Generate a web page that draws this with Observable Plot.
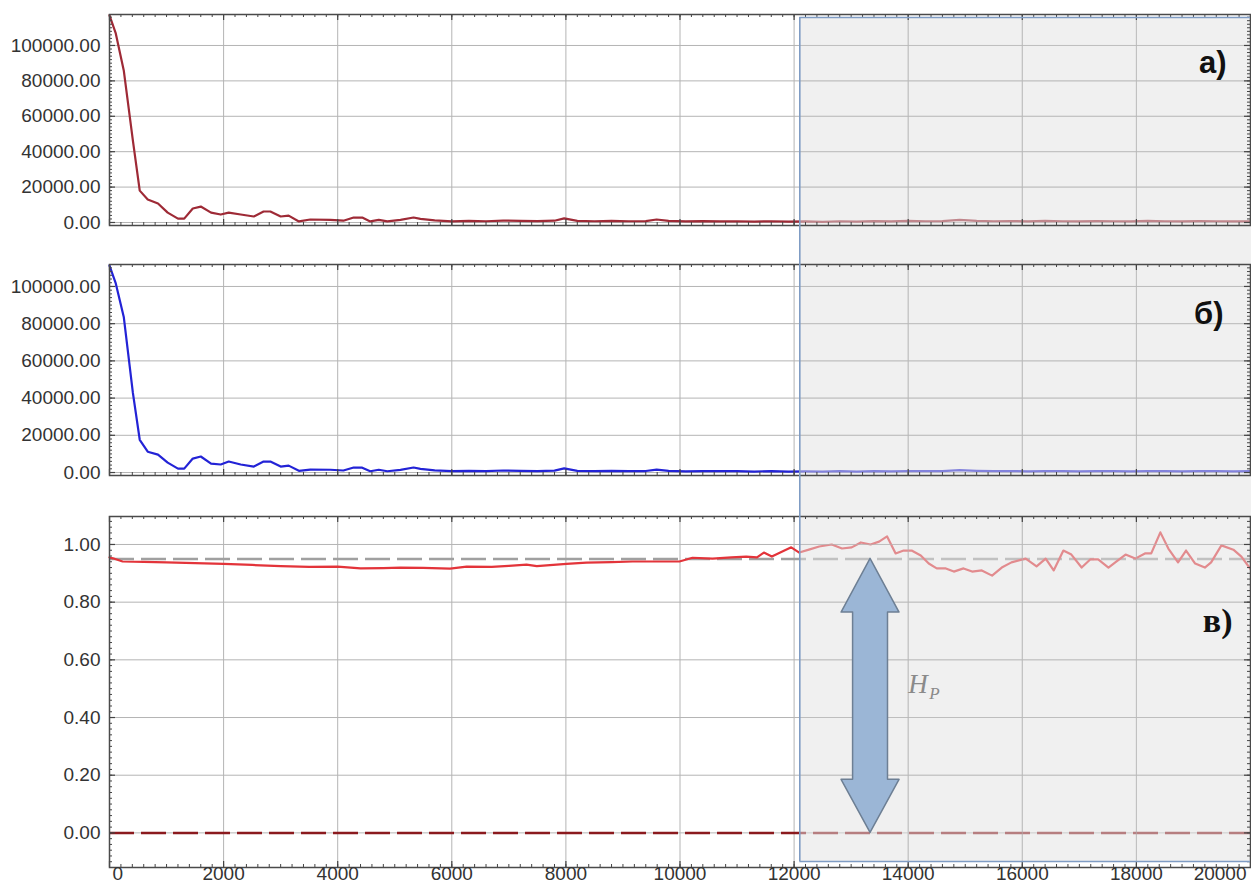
<!DOCTYPE html>
<html>
<head>
<meta charset="utf-8">
<script src="https://cdn.jsdelivr.net/npm/d3@7"></script>
<script src="https://cdn.jsdelivr.net/npm/@observablehq/plot@0.6"></script>
<style>
  body { margin: 0; background: #fff; }
  #chart { width: 1251px; }
  #chart svg { display: block; }
</style>
</head>
<body>
<div id="chart"></div>
<script>
// Series: [step, value]
const curveA = [
  [0,117000],[110,106800],[250,85900],[410,46300],[530,18000],[670,13000],[850,10700],[1020,5600],
  [1200,2200],[1310,2200],[1460,7900],[1600,9000],[1780,5600],[1950,4500],[2090,5600],[2300,4500],
  [2530,3400],[2700,6200],[2820,6200],[3000,3400],[3140,3900],[3320,600],[3520,1700],[3870,1500],
  [4100,1000],[4280,2800],[4430,2800],[4570,600],[4720,1500],[4870,600],[5100,1500],[5330,2800],
  [5450,2000],[5700,1200],[6000,600],[6300,900],[6600,700],[6900,1100],[7200,900],[7500,800],
  [7800,1000],[7970,2300],[8200,900],[8500,700],[8800,900],[9100,700],[9400,800],[9590,1700],
  [9800,900],[10100,600],[10400,800],[10700,600],[11000,700],[11300,500],[11600,700],[11900,500],
  [12200,600],[12500,400],[12800,700],[13100,500],[13400,800],[13700,600],[14000,900],[14300,700],
  [14600,800],[14900,1500],[15200,900],[15500,700],[15800,800],[16100,600],[16400,900],[16700,700],
  [17000,600],[17300,800],[17600,700],[17900,600],[18200,900],[18500,700],[18800,600],[19100,800],
  [19400,700],[19700,600],[20000,700]
];
const curveB = [
  [0,111200],[110,101600],[250,83600],[410,42800],[530,17600],[670,11200],[850,9600],[1020,5300],
  [1200,2100],[1310,2100],[1460,7500],[1600,8600],[1780,4800],[1950,4300],[2090,5900],[2300,4300],
  [2530,3200],[2700,5900],[2820,5900],[3000,3200],[3140,3700],[3320,900],[3520,1600],[3870,1500],
  [4100,1100],[4280,2700],[4430,2600],[4570,700],[4720,1500],[4870,700],[5100,1400],[5330,2700],
  [5450,2000],[5700,1200],[6000,700],[6300,900],[6600,800],[6900,1100],[7200,900],[7500,800],
  [7800,1000],[7970,2200],[8200,900],[8500,700],[8800,900],[9100,700],[9400,800],[9590,1600],
  [9800,900],[10100,600],[10400,800],[10700,700],[11000,700],[11300,500],[11600,800],[11900,500],
  [12200,600],[12500,500],[12800,700],[13100,500],[13400,700],[13700,600],[14000,800],[14300,700],
  [14600,800],[14900,1300],[15200,900],[15500,700],[15800,800],[16100,600],[16400,800],[16700,700],
  [17000,600],[17300,800],[17600,700],[17900,600],[18200,800],[18500,700],[18800,600],[19100,800],
  [19400,700],[19700,600],[20000,700]
];
const curveC = [
  [0,0.955],[60,0.952],[230,0.941],[600,0.940],[1000,0.938],[1500,0.935],[2000,0.933],[2500,0.929],
  [3000,0.925],[3500,0.922],[4000,0.923],[4400,0.917],[4800,0.918],[5100,0.920],[5500,0.919],
  [5970,0.916],[6260,0.923],[6700,0.922],[7000,0.926],[7310,0.930],[7490,0.925],[8010,0.933],
  [8360,0.937],[8800,0.939],[9170,0.941],[9600,0.941],[9990,0.941],[10220,0.954],[10570,0.951],
  [10900,0.955],[11160,0.958],[11350,0.955],[11470,0.972],[11610,0.958],[11950,0.990],[12090,0.972],
  [12260,0.982],[12440,0.993],[12660,1.000],[12840,0.986],[13010,0.990],[13170,1.007],[13340,1.000],
  [13490,1.010],[13630,1.028],[13780,0.969],[13920,0.979],[14060,0.979],[14220,0.962],[14360,0.934],
  [14500,0.917],[14660,0.917],[14800,0.906],[14970,0.917],[15120,0.906],[15290,0.910],[15470,0.892],
  [15640,0.920],[15810,0.938],[16060,0.951],[16250,0.924],[16410,0.951],[16550,0.910],[16720,0.979],
  [16860,0.965],[17040,0.920],[17190,0.948],[17330,0.948],[17510,0.920],[17630,0.938],[17810,0.965],
  [17980,0.951],[18150,0.969],[18260,0.969],[18420,1.042],[18560,0.986],[18730,0.938],[18870,0.979],
  [19030,0.934],[19200,0.920],[19310,0.938],[19490,0.997],[19700,0.982],[19840,0.958],[20000,0.915]
];

const xTicks = [0, 2000, 4000, 6000, 8000, 10000, 12000, 14000, 16000, 18000, 20000];
const yTicksAB = [0, 20000, 40000, 60000, 80000, 100000];
const yTicksC = [0, 0.2, 0.4, 0.6, 0.8, 1.0];
const levelC = 0.95;          // reference level (grey dashed)
const baseC = 0;              // zero level (dark red dashed)
const shadeSpan = [12100, 20000];
const panelLabels = ["а)", "б)", "в)"];
// Double arrow between the zero level and the reference level: [y, left, right]
const arrowShape = [
  [0.0, 13340, 13340],
  [0.184, 12832, 13848],
  [0.184, 13034, 13646],
  [0.764, 13034, 13646],
  [0.764, 12832, 13848],
  [0.95, 13340, 13340]
];

const W = 1251, ML = 109, MR = 1;
const FONT = "'Liberation Sans', Arial, sans-serif";
const GRID = "#b4b4b4";
const EDGE = "#7f9cc4";
const fmt2 = d3.format(".2f");

function panel(o) {
  const fh = o.height - o.mt - o.mb;
  const fw = W - ML - MR;
  const xMinor = d3.range(0, 20001, 200);
  const yMinor = d3.range(Math.ceil(o.yDomain[0] / o.yStep) * o.yStep, o.yDomain[1], o.yStep);
  const yMajorAll = d3.range(Math.ceil(o.yDomain[0] / o.yMajor) * o.yMajor, o.yDomain[1], o.yMajor);
  const tickColor = "#444";
  const marks = [
    // grid
    Plot.ruleX(xTicks.slice(1, -1), {stroke: GRID, strokeWidth: 1}),
    Plot.ruleY(o.yTicks, {stroke: GRID, strokeWidth: 1}),
    ...(o.under || []),
    Plot.line(o.data, {x: d => d[0], y: d => d[1], stroke: o.color, strokeWidth: 2.2}),
    // shaded horizon region (laid over the curves, so they fade inside it)
    Plot.rect([shadeSpan], {x1: d => d[0], x2: d => d[1], fill: "#e2e2e2", fillOpacity: 0.5,
      insetTop: o.shadeTop, insetBottom: o.shadeBottom, insetRight: -4}),
    // grid again inside the shaded region so it keeps its contrast there
    Plot.ruleX(xTicks.filter(v => v > shadeSpan[0] && v < 20000), {stroke: GRID, strokeWidth: 1,
      strokeOpacity: 0.6}),
    Plot.ruleY(o.yTicks.filter(v => v !== 0), {x1: () => shadeSpan[0], x2: () => shadeSpan[1],
      stroke: GRID, strokeWidth: 1, strokeOpacity: 0.6}),
    // inward frame ticks
    Plot.ruleX(xMinor, {stroke: tickColor, strokeWidth: 1, insetTop: fh - 3}),
    Plot.ruleX(xMinor, {stroke: tickColor, strokeWidth: 1, insetBottom: fh - 3}),
    Plot.ruleX(xTicks, {stroke: tickColor, strokeWidth: 1.2, insetTop: fh - 6}),
    Plot.ruleX(xTicks, {stroke: tickColor, strokeWidth: 1.2, insetBottom: fh - 6}),
    Plot.ruleY(yMinor, {stroke: tickColor, strokeWidth: 1, insetRight: fw - 3}),
    Plot.ruleY(yMinor, {stroke: tickColor, strokeWidth: 1, insetLeft: fw - 3}),
    Plot.ruleY(yMajorAll, {stroke: tickColor, strokeWidth: 1.2, insetRight: fw - 6}),
    Plot.ruleY(yMajorAll, {stroke: tickColor, strokeWidth: 1.2, insetLeft: fw - 6}),
    Plot.frame({stroke: "#4a4a4a", strokeWidth: 1.5}),
    // border of the shaded region
    Plot.ruleX([shadeSpan[0]], {stroke: EDGE, strokeWidth: 1.6,
      insetTop: o.shadeTop, insetBottom: o.shadeBottom}),
    ...(o.shadeEdges || []),
    // y tick labels
    Plot.text(o.yTicks, {y: d => d, text: d => fmt2(d), frameAnchor: "left", textAnchor: "end",
      dx: -9, fill: "#333", fontSize: 19}),
    // panel label
    Plot.text([o.label], {text: d => d, frameAnchor: "top-right", textAnchor: "end",
      dx: o.labelDx, dy: o.labelDy, fontSize: o.labelSize, fontWeight: "bold",
      fontFamily: o.labelFont, fill: "#111"}),
    ...(o.over || [])
  ];
  return Plot.plot({
    width: W, height: o.height,
    marginLeft: ML, marginRight: MR, marginTop: o.mt, marginBottom: o.mb,
    x: {domain: [0, 20000], axis: null},
    y: {domain: o.yDomain, axis: null},
    style: {fontFamily: FONT, fontSize: "19px", background: "transparent", overflow: "visible"},
    marks
  });
}

const yDomA = [-1700, 117500];
const yDomB = [-1600, 111800];
const yDomC = [-0.12, 1.097];

const chart = document.getElementById("chart");

chart.append(panel({
  data: curveA, color: "#9e2a36", yDomain: yDomA, yTicks: yTicksAB, yStep: 2000, yMajor: 20000,
  height: 245, mt: 14, mb: 20, shadeTop: 3, shadeBottom: -20,
  shadeEdges: [Plot.ruleY([yDomA[1]], {x1: () => shadeSpan[0], x2: () => shadeSpan[1], dy: 3,
    stroke: EDGE, strokeWidth: 1.6})],
  label: panelLabels[0], labelDx: -24, labelDy: 36, labelSize: 31, labelFont: FONT
}));

chart.append(panel({
  data: curveB, color: "#2323d6", yDomain: yDomB, yTicks: yTicksAB, yStep: 2000, yMajor: 20000,
  height: 250, mt: 19, mb: 20, shadeTop: -19, shadeBottom: -20,
  label: panelLabels[1], labelDx: -27, labelDy: 37, labelSize: 31, labelFont: FONT
}));

const serif = "'Liberation Serif', 'Times New Roman', serif";
chart.append(panel({
  data: curveC, color: "#e3343a", yDomain: yDomC, yTicks: yTicksC, yStep: 0.02, yMajor: 0.2,
  height: 391, mt: 21, mb: 19, shadeTop: -21, shadeBottom: 6,
  under: [
    Plot.ruleY([levelC], {stroke: "#a0a0a0", strokeWidth: 2.5, strokeDasharray: "25,7"}),
    Plot.ruleY([baseC], {stroke: "#8b1a1e", strokeWidth: 2.5, strokeDasharray: "25,7"})
  ],
  shadeEdges: [Plot.ruleY([yDomC[0]], {x1: () => shadeSpan[0], x2: () => shadeSpan[1], dy: -6,
    stroke: EDGE, strokeWidth: 1.6})],
  label: panelLabels[2], labelDx: -18, labelDy: 91, labelSize: 34, labelFont: serif,
  over: [
    Plot.areaX(arrowShape, {y: d => d[0], x1: d => d[1], x2: d => d[2],
      fill: "#9bb6d6", stroke: "#6d7f94", strokeWidth: 1.5}),
    Plot.text(["H"], {x: () => 14000, y: () => 0.514, text: d => d, textAnchor: "start",
      fontFamily: serif, fontStyle: "italic", fontSize: 27, fill: "#8a8a8a"}),
    Plot.text(["P"], {x: () => 14000, y: () => 0.514, text: d => d, textAnchor: "start",
      dx: 21, dy: 9, fontFamily: serif, fontStyle: "italic", fontSize: 17, fill: "#8a8a8a"}),
    // x tick labels
    Plot.text(xTicks.slice(0, 1), {x: d => d, text: d => String(d), frameAnchor: "bottom",
      textAnchor: "start", dx: 3, dy: 12, fill: "#333", fontSize: 19}),
    Plot.text(xTicks.slice(1, -1), {x: d => d, text: d => String(d), frameAnchor: "bottom",
      dy: 12, fill: "#333", fontSize: 19}),
    Plot.text(xTicks.slice(-1), {x: d => d, text: d => String(d), frameAnchor: "bottom",
      textAnchor: "end", dx: -4, dy: 12, fill: "#333", fontSize: 19})
  ]
}));
</script>
</body>
</html>
